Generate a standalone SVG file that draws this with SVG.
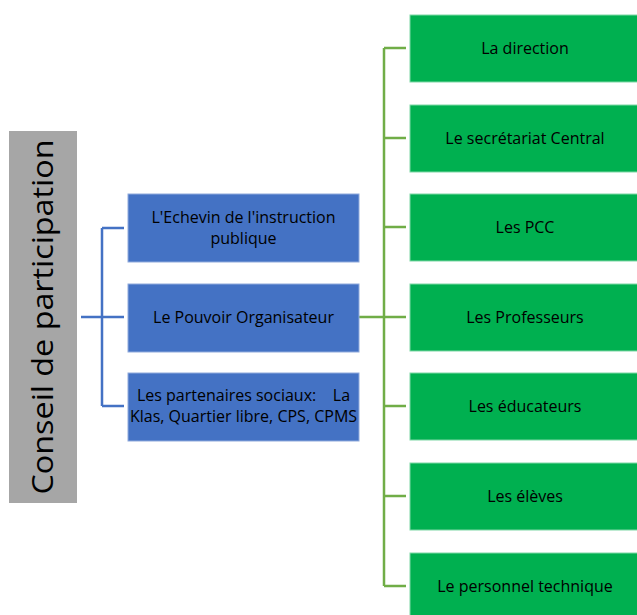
<svg xmlns="http://www.w3.org/2000/svg" width="637" height="615" viewBox="0 0 637 615">
<style>
.t{font-family:"Open Sans","Liberation Sans",sans-serif;font-size:16px;fill:#000;text-anchor:middle}
.b{fill:#4472C4;stroke:#8faadc;stroke-width:1}
.g{fill:#00B050;stroke:#7fd7a6;stroke-width:1}
.lb{fill:none;stroke:#4472C4;stroke-width:2.5}
.lg{fill:none;stroke:#70AD47;stroke-width:2.5}
</style>
<rect width="637" height="615" fill="#fff"/>
<g id="conseil">
<rect x="9" y="131" width="68" height="372" fill="#A6A6A6"/>
<text transform="translate(53,317) rotate(-90)" textLength="355" lengthAdjust="spacingAndGlyphs" style="font-family:'Open Sans','Liberation Sans',sans-serif;font-size:29px;fill:#000;text-anchor:middle">Conseil de participation</text>
</g>
<g id="connectors">
<path class="lb" d="M81,317H124M102,228V406M102,228H124M102,406H124"/>
<path class="lg" d="M359,317H384M384,48V586M384,48H406M384,138H406M384,227H406M384,317H406M384,406H406M384,496H406M384,586H406"/>
</g>
<g id="echevin"><rect class="b" x="128" y="194" width="231" height="68"/><text class="t" x="243.5" y="223">L'Echevin de l'instruction</text><text class="t" x="243.5" y="244">publique</text></g>
<g id="pouvoir"><rect class="b" x="128" y="284" width="231" height="68"/><text class="t" x="243.5" y="323">Le Pouvoir Organisateur</text></g>
<g id="partenaires"><rect class="b" x="128" y="373" width="231" height="68"/><text class="t" x="243.5" y="401" xml:space="preserve">Les partenaires sociaux:    La</text><text class="t" x="243.5" y="422">Klas, Quartier libre, CPS, CPMS</text></g>
<g id="direction"><rect class="g" x="410" y="15" width="230" height="67"/><text class="t" x="525" y="54">La direction</text></g>
<g id="secretariat"><rect class="g" x="410" y="105" width="230" height="67"/><text class="t" x="525" y="144">Le secrétariat Central</text></g>
<g id="pcc"><rect class="g" x="410" y="194" width="230" height="67"/><text class="t" x="525" y="233">Les PCC</text></g>
<g id="professeurs"><rect class="g" x="410" y="284" width="230" height="67"/><text class="t" x="525" y="323">Les Professeurs</text></g>
<g id="educateurs"><rect class="g" x="410" y="373" width="230" height="67"/><text class="t" x="525" y="412">Les éducateurs</text></g>
<g id="eleves"><rect class="g" x="410" y="463" width="230" height="67"/><text class="t" x="525" y="502">Les élèves</text></g>
<g id="personnel"><rect class="g" x="410" y="553" width="230" height="67"/><text class="t" x="525" y="592">Le personnel technique</text></g>
</svg>
